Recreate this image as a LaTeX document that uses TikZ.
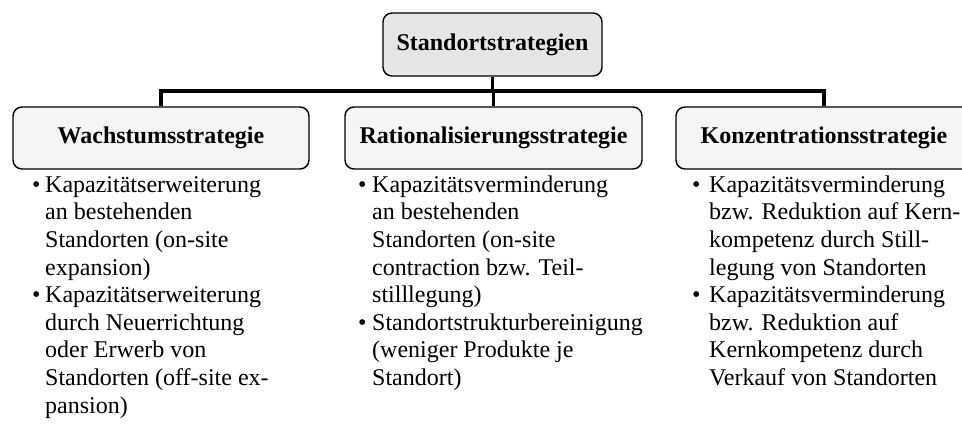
\documentclass[tikz,border=0pt]{standalone}
\usepackage{fontspec}
\setmainfont{Liberation Serif}
\definecolor{rootfill}{HTML}{E6E6E6}
\definecolor{boxfill}{HTML}{F5F5F5}
\begin{document}
\begin{tikzpicture}[x=1pt,y=-1pt,
  hdr/.style={draw=black, line width=1.4pt, rounded corners=9pt, fill=boxfill,
    minimum height=62pt, inner sep=0pt,
    font=\fontsize{24}{27.6}\selectfont\bfseries},
  root/.style={hdr, fill=rootfill, minimum width=219pt, minimum height=63pt},
  conn/.style={draw=black, line width=3.5pt, line join=miter},
  item/.style={anchor=north west, inner sep=0pt, align=left,
    font=\fontsize{24}{27.6}\selectfont},
  bul/.style={anchor=base west, inner sep=0pt,
    font=\fontsize{24}{27.6}\selectfont}]
\useasboundingbox (0,0) rectangle (962,428);

% header boxes
\node[root] (top) at (492.5,44.5) {Standortstrategien};
\node[hdr, minimum width=296pt] (wachs) at (161,138) {Wachstumsstrategie};
\node[hdr, minimum width=297pt] (rat) at (493.5,138) {Rationalisierungsstrategie};
\node[hdr, minimum width=296pt] (konz) at (824,138) {Konzentrationsstrategie};

% tree connectors
\coordinate (bar) at (493,91);
\draw[conn] (top.south) -- (top.south |- bar);
\draw[conn] (wachs.north) -- (wachs.north |- bar) -- (konz.north |- bar) -- (konz.north);
\draw[conn] (rat.north) -- (rat.north |- bar);

% row baselines: 192 + k*27.6 ; node top = baseline - 19.32
% left column
\node[bul] (wb1) at (32,192) {•};
\node[item] (wi1) at (45,172.68) {\strut Kapazitätserweiterung\\an bestehenden\\Standorten (on-site\\expansion)};
\node[bul] (wb2) at (32,302.4) {•};
\node[item] (wi2) at (45,283.08) {\strut Kapazitätserweiterung\\durch Neuerrichtung\\oder Erwerb von\\Standorten (off-site ex-\\pansion)};

% middle column
\node[bul] (rb1) at (358,192) {•};
\node[item] (ri1) at (372,172.68) {\strut Kapazitätsverminderung\\an bestehenden\\Standorten (on-site\\contraction bzw. Teil-\\stilllegung)};
\node[bul] (rb2) at (358,330) {•};
\node[item] (ri2) at (372,310.68) {\strut Standortstrukturbereinigung\\(weniger Produkte je\\Standort)};

% right column
\node[bul] (kb1) at (692,192) {•};
\node[item] (ki1) at (709,172.68) {\strut Kapazitätsverminderung\\bzw. Reduktion auf Kern-\\kompetenz durch Still-\\legung von Standorten};
\node[bul] (kb2) at (692,302.4) {•};
\node[item] (ki2) at (709,283.08) {\strut Kapazitätsverminderung\\bzw. Reduktion auf\\Kernkompetenz durch\\Verkauf von Standorten};
\end{tikzpicture}
\end{document}
